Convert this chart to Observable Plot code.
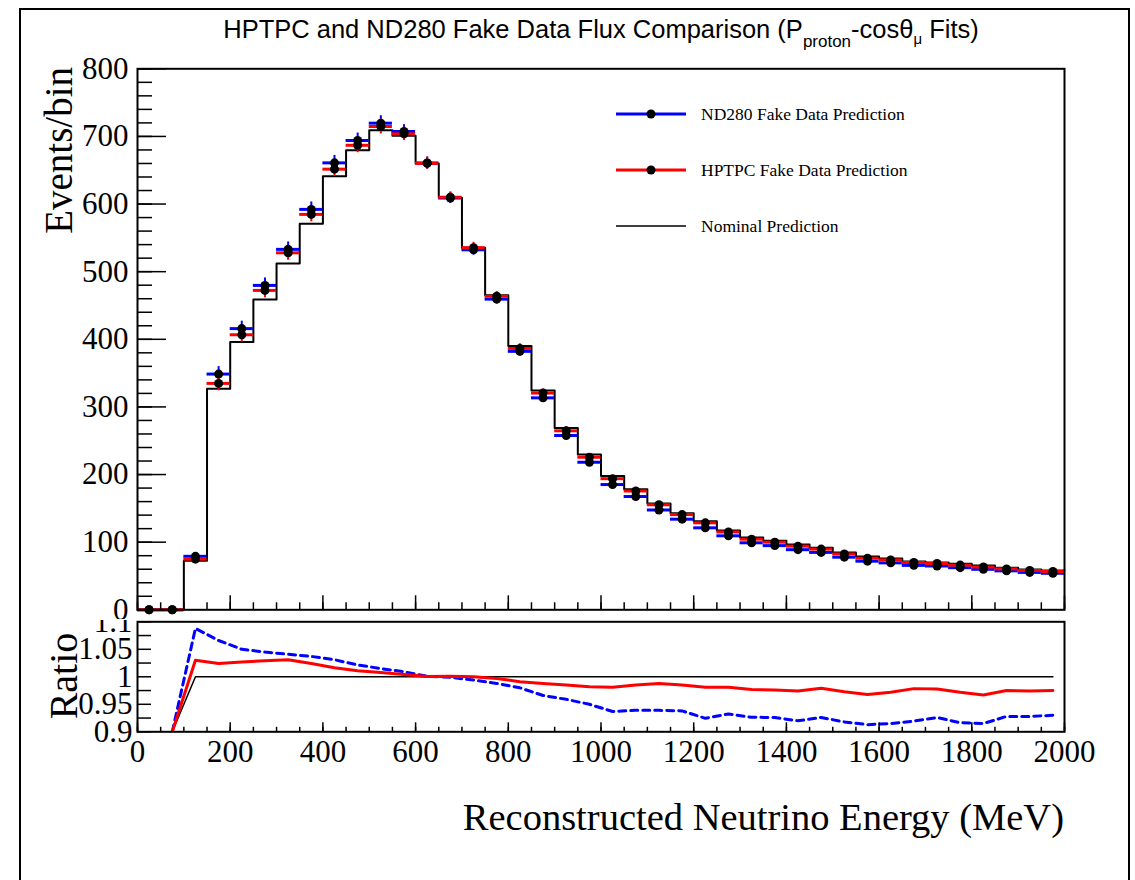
<!DOCTYPE html>
<html><head><meta charset="utf-8">
<script src="https://cdn.jsdelivr.net/npm/d3@7"></script>
<script src="https://cdn.jsdelivr.net/npm/@observablehq/plot@0.6"></script>
<style>
html,body{margin:0;padding:0;background:#fff;}
#wrap{position:relative;width:1135px;height:880px;overflow:hidden;background:#fff;}
#wrap svg{position:absolute;left:0;overflow:hidden;}
</style></head><body><div id="wrap"></div>
<script>
// ---- data ----
const binLow = [0,50,100,150,200,250,300,350,400,450,500,550,600,650,700,750,800,850,900,950,
  1000,1050,1100,1150,1200,1250,1300,1350,1400,1450,1500,1550,1600,1650,1700,1750,1800,1850,1900,1950];
const binWidth = 50;
const nominal = [0,0,72.7,327,396,459,512,571,641,679.4,709,701,660,609.5,535.5,465,390,324.4,268.7,229.7,
  197.7,178.4,157.2,142.9,131.1,117.3,107,102,96.6,91.7,84.8,78.8,75.9,71.4,70,68,65.5,62.1,59.6,58.1];
const nd280 = [0,0,79.1,348.6,415.8,479.7,533,592.1,660.9,694,719.6,707.3,660.7,608.9,532.3,459.4,382.2,313.4,257.7,218.2,
  185.2,167.5,147.6,134.0,121.2,109.4,99.1,94.9,88.9,84.9,77.8,71.9,69.4,65.7,64.8,62.3,59.9,57.6,55.3,54.0];
const hptpc = [0,0,74.9,334.8,406.7,472.3,527.9,584.7,651.6,686.9,714.7,703.8,660.3,610.1,535.5,463.6,386.5,320.5,264.7,225.6,
  193.9,175.7,155.3,140.8,128.6,115.1,104.5,100.0,94.1,89.8,82.5,76.3,73.8,69.9,68.5,66.1,63.3,60.5,58.1,56.6];
const statErr = [0,0,4,11,11,11,11,11,11,11,11,10,9,8,8,7,7,6,6,5,5,5,4,4,4,4,4,4,4,4,3,3,3,3,3,3,3,3,3,3];
// ratio panel values
const ratioNominal = [null,0.9,1,1,1,1,1,1,1,1,1,1,1,1,1,1,1,1,1,1,1,1,1,1,1,1,1,1,1,1,1,1,1,1,1,1,1,1,1,1];
const ratioND280 = [null,0.9,1.088,1.066,1.050,1.045,1.041,1.037,1.031,1.0215,1.015,1.009,1.001,0.999,0.994,0.988,0.980,0.966,0.959,0.950,
  0.937,0.939,0.939,0.938,0.9245,0.9325,0.9264,0.926,0.920,0.926,0.918,0.913,0.915,0.9195,0.926,0.9165,0.915,0.928,0.928,0.930];
const ratioHPTPC = [null,0.9,1.030,1.024,1.027,1.029,1.031,1.024,1.0166,1.011,1.008,1.004,1.0005,1.001,1.0,0.997,0.991,0.988,0.985,0.982,
  0.981,0.985,0.988,0.985,0.981,0.981,0.9767,0.976,0.974,0.979,0.973,0.968,0.972,0.9785,0.978,0.972,0.967,0.975,0.974,0.975];
// ticks
const yMainTicks = [0,100,200,300,400,500,600,700,800];
const xTicks = [0,200,400,600,800,1000,1200,1400,1600,1800,2000];
const ratioTicks = [0.9,0.95,1,1.05,1.1];
const ratioTickLabels = ["0.9","0.95","1","1.05","1.1"];
const legendLabels = ["ND280 Fake Data Prediction","HPTPC Fake Data Prediction","Nominal Prediction"];

// ---- tables built from the arrays ----
const rows = (vals) => binLow.map((lo,i)=>({lo, hi: lo+binWidth, c: lo+binWidth/2, v: vals[i], e: statErr[i]}));
const ndRows = rows(nd280), hpRows = rows(hptpc);
const stepPts = binLow.map((lo,i)=>({x:lo, y:nominal[i]}))
  .concat([{x: binLow[binLow.length-1]+binWidth, y: nominal[nominal.length-1]}]);
const rRows = (vals) => binLow.map((lo,i)=>({c: lo+binWidth/2, r: vals[i]}));
const minorY = d3.range(0, 801, 20);
const minorX = d3.range(0, 2001, 50);
const minorR = d3.range(0, 9).map(i => 0.9 + i*0.025);

const BLUE = "#0000ff", RED = "#ff0000";
const W = 1135;
const serif = "Liberation Serif, Times New Roman, serif";

const mainPlot = Plot.plot({
  width: W, height: 619,
  marginLeft: 137, marginRight: 71, marginTop: 68.3, marginBottom: 9.7,
  x: {domain: [0, 2000], label: null},
  y: {domain: [0, 800], label: null},
  style: {background: "transparent", fontFamily: serif, color: "black"},
  marks: [
    Plot.line(stepPts, {x: "x", y: "y", curve: "step-after", stroke: "black", strokeWidth: 2}),
    Plot.ruleY(ndRows, {x1: "lo", x2: "hi", y: "v", stroke: BLUE, strokeWidth: 3}),
    Plot.ruleX(ndRows, {x: "c", y1: d=>d.v-d.e, y2: d=>d.v+d.e, stroke: BLUE, strokeWidth: 2}),
    Plot.ruleY(hpRows, {x1: "lo", x2: "hi", y: "v", stroke: RED, strokeWidth: 3}),
    Plot.ruleX(hpRows, {x: "c", y1: d=>d.v-d.e, y2: d=>d.v+d.e, stroke: RED, strokeWidth: 2}),
    Plot.dot(ndRows, {x: "c", y: "v", r: 4.5, fill: "black"}),
    Plot.dot(hpRows, {x: "c", y: "v", r: 4.5, fill: "black"}),
    Plot.axisY(yMainTicks, {anchor: "left", tickSize: -29, tickFormat: () => "", strokeWidth: 1.5, label: null}),
    Plot.axisY(minorY, {anchor: "left", tickSize: -15, tickFormat: () => "", strokeWidth: 1.5, label: null}),
    Plot.axisY(yMainTicks, {anchor: "left", tickSize: 0, tickPadding: 9, fontSize: 31, tickFormat: d => String(d), label: null}),
    Plot.axisX(xTicks, {anchor: "bottom", tickSize: -14, tickFormat: () => "", strokeWidth: 1.5, label: null}),
    Plot.axisX(minorX, {anchor: "bottom", tickSize: -7, tickFormat: () => "", strokeWidth: 1.5, label: null}),
    Plot.frame({stroke: "black", strokeWidth: 2})
  ]
});
mainPlot.style.top = "0px";

const RT = 620, RH = 150;
const ratioPlot = Plot.plot({
  width: W, height: RH,
  marginLeft: 137, marginRight: 71, marginTop: 621.3 - RT, marginBottom: RH - (731.3 - RT),
  x: {domain: [0, 2000], label: null},
  y: {domain: [0.9, 1.1], label: null},
  style: {background: "transparent", fontFamily: serif, color: "black"},
  marks: [
    Plot.line(rRows(ratioNominal), {x: "c", y: "r", stroke: "black", strokeWidth: 1.5, clip: true}),
    Plot.line(rRows(ratioND280), {x: "c", y: "r", stroke: BLUE, strokeWidth: 3, strokeDasharray: "7,5", clip: true}),
    Plot.line(rRows(ratioHPTPC), {x: "c", y: "r", stroke: RED, strokeWidth: 3, clip: true}),
    Plot.axisY(minorR, {anchor: "left", tickSize: -14, tickFormat: () => "", strokeWidth: 1.5, label: null}),
    Plot.axisY(ratioTicks, {anchor: "left", tickSize: 0, tickPadding: 5, fontSize: 31,
      tickFormat: d => ratioTickLabels[ratioTicks.indexOf(d)], label: null}),
    Plot.axisX(xTicks, {anchor: "bottom", tickSize: -9, tickFormat: () => "", strokeWidth: 1.5, label: null}),
    Plot.axisX(minorX, {anchor: "bottom", tickSize: -4.5, tickFormat: () => "", strokeWidth: 1.5, label: null}),
    Plot.axisX(xTicks, {anchor: "bottom", tickSize: 0, tickPadding: 8, fontSize: 31, tickFormat: d => String(d), label: null}),
    Plot.frame({stroke: "black", strokeWidth: 2})
  ]
});
ratioPlot.style.top = RT + "px";

const wrap = document.getElementById("wrap");
wrap.appendChild(mainPlot);
wrap.appendChild(ratioPlot);

// ---- overlay: outer frame, title, axis titles, legend ----
const ov = d3.create("svg").attr("width", W).attr("height", 880)
  .style("top", "0px").style("pointer-events", "none");
ov.append("rect").attr("x", 20).attr("y", 9).attr("width", 1109).attr("height", 900)
  .attr("fill", "none").attr("stroke", "black").attr("stroke-width", 2);

const title = ov.append("text").attr("x", 601).attr("y", 38).attr("text-anchor", "middle")
  .attr("font-family", "Liberation Sans, Arial, sans-serif").attr("font-size", 25.5).attr("fill", "black");
title.append("tspan").text("HPTPC and ND280 Fake Data Flux Comparison (P");
title.append("tspan").attr("font-size", 17).attr("dy", 9).text("proton");
title.append("tspan").attr("dy", -9).text("-cos\u03b8");
title.append("tspan").attr("font-size", 15).attr("dy", 6).text("\u03bc");
title.append("tspan").attr("dy", -6).text(" Fits)");

ov.append("text").attr("transform", "translate(72,67) rotate(-90)").attr("text-anchor", "end")
  .attr("font-family", serif).attr("font-size", 39).text("Events/bin");
ov.append("text").attr("transform", "translate(77,676) rotate(-90)").attr("text-anchor", "middle")
  .attr("font-family", serif).attr("font-size", 40).text("Ratio");
ov.append("text").attr("x", 1064).attr("y", 830).attr("text-anchor", "end")
  .attr("font-family", serif).attr("font-size", 38.5).text("Reconstructed Neutrino Energy (MeV)");

const legendColors = [BLUE, RED, "black"];
const legendY = [114, 170, 226];
legendLabels.forEach((lab, i) => {
  const g = ov.append("g");
  g.append("line").attr("x1", 616).attr("x2", 686).attr("y1", legendY[i]).attr("y2", legendY[i])
    .attr("stroke", legendColors[i]).attr("stroke-width", i < 2 ? 3 : 1.5);
  if (i < 2) g.append("circle").attr("cx", 651).attr("cy", legendY[i]).attr("r", 4.5).attr("fill", "black");
  g.append("text").attr("x", 701).attr("y", legendY[i]).attr("dy", "0.33em")
    .attr("font-family", serif).attr("font-size", 17.5).text(lab);
});
wrap.appendChild(ov.node());
</script></body></html>
